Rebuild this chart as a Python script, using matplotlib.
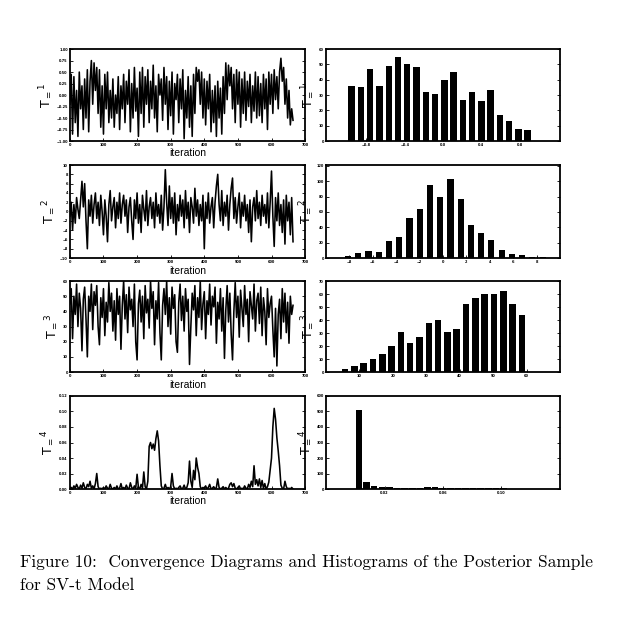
import numpy as np
import matplotlib
matplotlib.use('Agg')
import matplotlib.pyplot as plt

# trace values (every 4th iteration)
t1_trace = [-0.2, 0.45, -0.85, 0.4, -0.6, 0.1, -0.9, 0.5, -0.3, 0.2,
            -0.75, 0.35, -0.5, 0.55, -0.8, 0.3, 0.75, -0.2, 0.7, 0.1,
            0.6, -0.4, 0.55, -0.7, 0.2, -0.85, 0.45, -0.3, 0.5, -0.6,
            0.1, -0.5, 0.35, -0.7, 0.0, -0.4, 0.4, -0.75, 0.2, -0.3,
            0.45, -0.6, 0.3, -0.2, 0.55, -0.8, 0.25, -0.5, 0.6, -0.35,
            0.15, -0.9, 0.5, -0.4, 0.6, -0.7, 0.4, -0.2, 0.55, -0.6,
            0.3, -0.3, 0.65, -0.5, 0.2, -0.8, 0.45, 0.0, 0.35, -0.55,
            0.6, -0.2, 0.4, -0.75, 0.3, -0.45, 0.5, -0.85, 0.25, -0.1,
            0.45, -0.6, 0.35, -0.3, 0.55, -0.95, 0.1, -0.5, 0.4, -0.7,
            0.2, -0.9, 0.45, -0.4, 0.6, 0.3, 0.55, -0.2, 0.5, -0.5,
            0.35, -0.65, 0.3, -0.3, 0.45, -0.8, 0.1, -0.6, 0.2, -0.9,
            0.3, -0.5, 0.15, -0.85, 0.4, -0.4, 0.7, -0.1, 0.65, 0.2,
            0.6, -0.3, 0.45, -0.6, 0.55, -0.2, 0.5, -0.7, 0.35, -0.4,
            0.5, -0.55, 0.3, -0.25, 0.45, -0.6, 0.2, -0.35, 0.5, -0.5,
            0.4, -0.45, 0.25, -0.6, 0.45, -0.3, 0.35, -0.75, 0.5, -0.2,
            0.45, -0.4, 0.55, -0.1, 0.4, -0.3, 0.5, 0.8, 0.3, 0.6,
            -0.2, 0.35, -0.5, 0.1, -0.65, -0.3, -0.55]

t2_trace = [-1.0, 2.0, -4.0, 1.5, -2.5, 3.0, 0.5, -1.5, 2.5, 6.5,
            1.0, 6.0, -2.0, -8.0, 2.5, -1.0, 3.5, -2.5, 1.5, 4.0,
            -1.5, 2.0, -3.0, 3.5, 0.0, -5.0, 2.5, -1.0, -6.5, 1.5,
            4.5, -2.0, 1.0, 3.0, -3.5, 2.0, -1.5, 4.0, -2.5, 1.5,
            3.5, -1.0, 2.5, -4.5, 1.0, 3.0, -2.0, -6.0, 2.5, -1.5,
            4.0, -2.5, 1.5, -4.5, 3.5, 0.5, -2.0, 4.5, -3.0, 1.0,
            3.0, -1.5, 2.0, -3.5, 4.0, -1.0, 1.5, -2.5, 3.5, -4.0,
            1.0, 9.0, 2.0, -3.0, 5.5, -1.5, 3.0, -2.5, 4.0, -5.0,
            1.5, -2.0, 3.5, -1.0, 2.5, -3.5, 4.5, -1.5, 2.0, -4.5,
            3.0, 1.0, -2.5, 5.0, -1.0, 2.5, -3.0, 1.5, -2.0, 3.5,
            -8.0, 2.0, -1.5, 4.0, -2.5, 1.0, 3.0, -3.5, 2.0, 5.5,
            8.0, 1.5, -2.0, 4.5, -3.0, 2.0, -1.0, 3.5, -4.0, 1.5,
            5.0, 7.2, -1.5, 3.0, -2.5, 1.0, 4.0, -3.5, 2.0, -1.0,
            3.5, -2.0, 1.5, -4.5, 2.5, -6.5, 1.0, 3.0, -2.0, 4.5,
            -1.5, 2.0, -3.0, 3.5, -1.0, 1.5, -2.5, 4.0, -3.5, 2.0,
            8.7, -1.0, -7.5, 3.0, -2.0, 4.0, -3.0, 1.5, -4.5, 2.5,
            -7.0, 3.5, -2.0, 2.0, -5.0, 3.0, -6.5]

t3_trace = [45, 55, 22, 50, 38, 58, 30, 52, 42, 14,
            48, 56, 35, 10, 50, 40, 58, 28, 53, 44,
            57, 30, 18, 49, 36, 55, 24, 46, 33, 59,
            40, 52, 27, 47, 21, 55, 38, 50, 15, 44,
            60, 35, 51, 26, 56, 41, 48, 30, 58, 20,
            8, 45, 54, 33, 50, 22, 57, 39, 48, 29,
            60, 42, 53, 18, 47, 35, 59, 26, 8, 44,
            55, 38, 60, 30, 49, 25, 56, 42, 51, 20,
            13, 46, 58, 34, 50, 27, 55, 40, 48, 5,
            30, 52, 41, 57, 24, 49, 36, 60, 28, 45,
            53, 22, 47, 38, 58, 31, 50, 43, 56, 19,
            46, 35, 55, 27, 49, 9, 41, 57, 33, 52,
            25, 8, 40, 59, 36, 50, 23, 54, 42, 30,
            57, 38, 48, 20, 53, 44, 35, 58, 27, 47,
            52, 32, 56, 24, 49, 40, 18, 55, 36, 45,
            50, 28, 10, 42, 4, 38, 48, 22, 55, 33,
            52, 26, 46, 19, 50, 38, 44]

t4_trace = [0.001, 0.002, 0.0, 0.004, 0.001, 0.006, 0.002, 0.0, 0.005, 0.001,
            0.008, 0.002, 0.0, 0.006, 0.003, 0.01, 0.001, 0.004, 0.0, 0.007,
            0.02, 0.003, 0.0, 0.001, 0.0, 0.002, 0.0, 0.004, 0.001, 0.0,
            0.006, 0.001, 0.0, 0.002, 0.0, 0.004, 0.0, 0.001, 0.007, 0.0,
            0.002, 0.0, 0.005, 0.001, 0.0, 0.008, 0.002, 0.0, 0.004, 0.001,
            0.019, 0.002, 0.0, 0.006, 0.001, 0.022, 0.003, 0.0, 0.01, 0.055,
            0.06, 0.052, 0.058, 0.05, 0.065, 0.075, 0.062, 0.03, 0.004, 0.0,
            0.001, 0.006, 0.0, 0.002, 0.0, 0.003, 0.02, 0.004, 0.0, 0.001,
            0.0, 0.002, 0.004, 0.0, 0.001, 0.005, 0.0, 0.002, 0.008, 0.036,
            0.01, 0.002, 0.024, 0.012, 0.04, 0.028, 0.02, 0.003, 0.0, 0.002,
            0.001, 0.004, 0.0, 0.002, 0.006, 0.0, 0.001, 0.003, 0.0, 0.002,
            0.013, 0.002, 0.0, 0.001, 0.003, 0.0, 0.002, 0.0, 0.001, 0.006,
            0.008, 0.003, 0.007, 0.001, 0.0, 0.002, 0.004, 0.0, 0.001, 0.0,
            0.004, 0.001, 0.0, 0.006, 0.002, 0.01, 0.003, 0.03, 0.006, 0.012,
            0.004, 0.013, 0.002, 0.011, 0.001, 0.007, 0.0, 0.003, 0.009, 0.025,
            0.04, 0.08, 0.104, 0.09, 0.066, 0.049, 0.03, 0.005, 0.001, 0.0,
            0.01, 0.003, 0.0, 0.001, 0.0, 0.002, 0.0]

# histogram counts (20 bins each) and bin ranges
t1_counts = [36, 35, 47, 36, 49, 55, 50, 48, 32, 31, 40, 45, 27, 32, 26, 33, 17, 13, 8, 7]
t1_bins = (-1.0, 0.93)
t2_counts = [3, 6, 9, 8, 22, 27, 52, 64, 95, 80, 103, 77, 43, 32, 23, 10, 5, 4, 1, 2]
t2_bins = (-8.55, 8.95)
t3_counts = [2, 5, 7, 10, 14, 20, 31, 22, 27, 38, 40, 31, 33, 52, 57, 60, 60, 62, 52, 44]
t3_bins = (4.3, 60.0)
t4_counts = [508, 48, 22, 15, 15, 9, 9, 9, 9, 15, 15, 9, 9, 9, 9, 9, 9, 9, 9, 9]
t4_bins = (0.0, 0.104)

labels = ['1', '2', '3', '4']
traces = [t1_trace, t2_trace, t3_trace, t4_trace]
hists = [(t1_counts, t1_bins), (t2_counts, t2_bins), (t3_counts, t3_bins), (t4_counts, t4_bins)]

trace_ylim = [(-1.0, 1.0), (-10, 10), (0, 60), (0, 0.12)]
trace_yticks = [np.arange(-1.0, 1.01, 0.25), np.arange(-10, 11, 2), np.arange(0, 61, 10), np.arange(0, 0.121, 0.02)]
hist_xlim = [(-1.22, 1.22), (-10, 10), (0, 70), (-0.02, 0.14)]
hist_xticks = [[-0.8, -0.4, 0.0, 0.4, 0.8], [-8, -6, -4, -2, 0, 2, 4, 6, 8], [10, 20, 30, 40, 50, 60], [0.02, 0.06, 0.10]]
hist_ylim = [(0, 60), (0, 121), (0, 70), (0, 600)]
hist_yticks = [np.arange(0, 61, 10), np.arange(0, 121, 20), np.arange(0, 71, 10), np.arange(0, 601, 100)]
bar_frac = [0.7, 0.6, 0.7, 0.85]

rows = [(0.7776, 0.145), (0.593, 0.1467), (0.4132, 0.1435), (0.2287, 0.1467)]

fig = plt.figure(figsize=(6.41, 6.34), dpi=100)


def style(ax):
    for s in ax.spines.values():
        s.set_linewidth(1.3)
    ax.tick_params(direction='in', length=2, width=0.6, labelsize=2.5, pad=1.5,
                   top=False, right=True)
    for lab in ax.get_xticklabels() + ax.get_yticklabels():
        lab.set_fontweight('bold')


for i in range(4):
    bottom, height = rows[i]
    ylab = r'$\mathrm{T}_{=}{}^{%s}$' % labels[i]

    # trace plot
    ax = fig.add_axes([0.109, bottom, 0.367, height])
    it = np.arange(len(traces[i])) * 4
    ax.plot(it, traces[i], color='black', lw=1.15)
    ax.set_xlim(0, 700)
    ax.set_ylim(*trace_ylim[i])
    ax.set_xticks(np.arange(0, 701, 100))
    ax.set_yticks(trace_yticks[i])
    ax.set_xlabel('iteration', fontsize=7.5, labelpad=1, family='Liberation Sans')
    ax.set_ylabel(ylab, fontsize=9, labelpad=2)
    style(ax)

    # histogram
    counts, (lo, hi) = hists[i]
    edges = np.linspace(lo, hi, len(counts) + 1)
    w = edges[1] - edges[0]
    centers = edges[:-1] + w / 2
    ax = fig.add_axes([0.5086, bottom, 0.365, height])
    ax.bar(centers, counts, width=w * bar_frac[i], color='black')
    ax.set_xlim(*hist_xlim[i])
    ax.set_ylim(*hist_ylim[i])
    ax.set_xticks(hist_xticks[i])
    ax.set_yticks(hist_yticks[i])
    ax.set_ylabel(ylab, fontsize=9, labelpad=2)
    style(ax)

fig.text(0.031, 1 - 567 / 634,
         'Figure 10:  Convergence Diagrams and Histograms of the Posterior Sample',
         fontsize=12.5, ha='left', va='baseline', family='cmr10')
fig.text(0.031, 1 - 590 / 634, 'for SV-t Model',
         fontsize=12.5, ha='left', va='baseline', family='cmr10')

fig.savefig('out.png', dpi=100)
